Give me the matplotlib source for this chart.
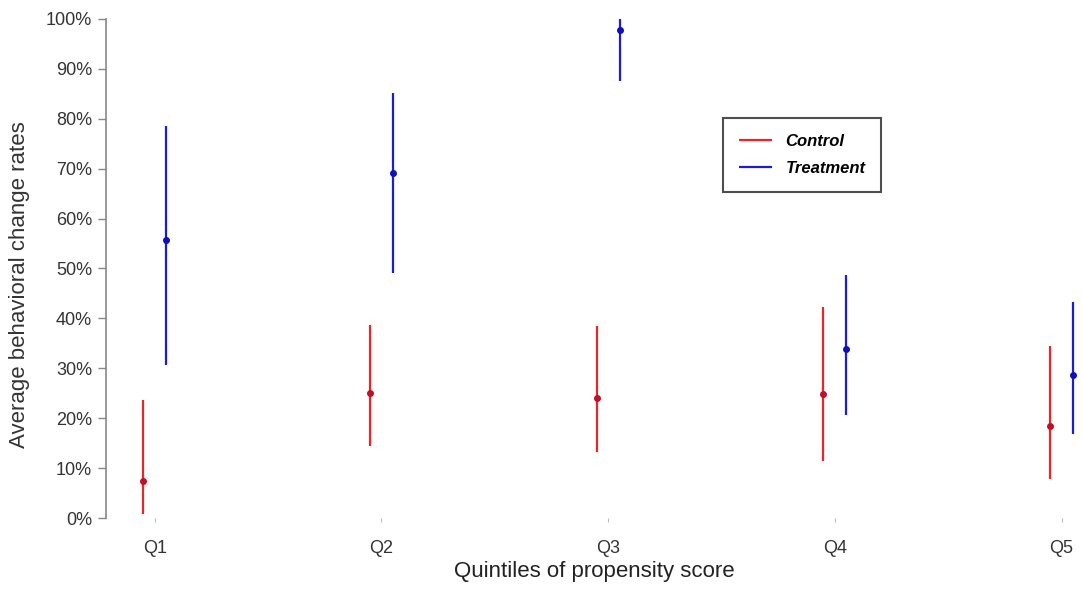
import numpy as np
import matplotlib
matplotlib.use("Agg")
import matplotlib.pyplot as plt
from matplotlib.ticker import PercentFormatter

plt.rcParams['font.family'] = ['Liberation Sans', 'DejaVu Sans']

quintiles = ["Q1", "Q2", "Q3", "Q4", "Q5"]

ctrl_mean = [7.4, 25.0, 24.1, 24.8, 18.5]
ctrl_low = [0.8, 14.4, 13.2, 11.4, 7.8]
ctrl_high = [23.6, 38.7, 38.5, 42.2, 34.5]

treat_mean = [55.7, 69.1, 97.8, 33.9, 28.7]
treat_low = [30.7, 49.1, 87.6, 20.7, 16.8]
treat_high = [78.5, 85.2, 100.0, 48.7, 43.3]

x = np.arange(1, len(quintiles) + 1)
off = 0.051

fig = plt.figure(figsize=(10.82, 6.02), dpi=100)
ax = fig.add_axes([0.098, 0.1395, 0.902, 0.829])

red = "#e8262a"
blue = "#1c1cd6"

ax.vlines(x - off, ctrl_low, ctrl_high, color=red, lw=1.6, label="Control")
ax.plot(x - off, ctrl_mean, "o", color="#c0102a", ms=4)
ax.vlines(x + off, treat_low, treat_high, color=blue, lw=1.6, label="Treatment")
ax.plot(x + off, treat_mean, "o", color="#1010b8", ms=4)

ax.set_xlim(0.785, 5.09)
ax.set_ylim(0, 100)
ax.set_yticks(np.arange(0, 101, 10))
ax.yaxis.set_major_formatter(PercentFormatter(decimals=0))
ax.set_xticks(x)
ax.set_xticklabels(quintiles)

for s in ["top", "right", "bottom"]:
    ax.spines[s].set_visible(False)
ax.spines["left"].set_color("#888888")
ax.spines["left"].set_linewidth(1.2)

ax.tick_params(axis="y", colors="#888888", labelcolor="#333333", labelsize=13, length=6, width=1, pad=4)
ax.tick_params(axis="x", colors="#bbbbbb", labelcolor="#333333", labelsize=13, length=3, width=0.8, pad=13)

ax.set_xlabel("Quintiles of propensity score", fontsize=16, color="#222222", labelpad=3)
# y label sits a bit below the axis centre in the original
fig.text(20 / 1082, 1 - 285 / 602, "Average behavioral change rates", fontsize=16,
         color="#333333", rotation=90, ha="center", va="center")

leg = ax.legend(loc="upper left", bbox_to_anchor=(0.6605, 0.818), bbox_transform=fig.transFigure,
                fancybox=False, edgecolor="#222222", handlelength=2.0,
                borderpad=0.95, labelspacing=0.75, prop={"style": "italic", "weight": "bold", "size": 12})
leg.get_frame().set_linewidth(1.5)

fig.savefig("out.png", dpi=100)
